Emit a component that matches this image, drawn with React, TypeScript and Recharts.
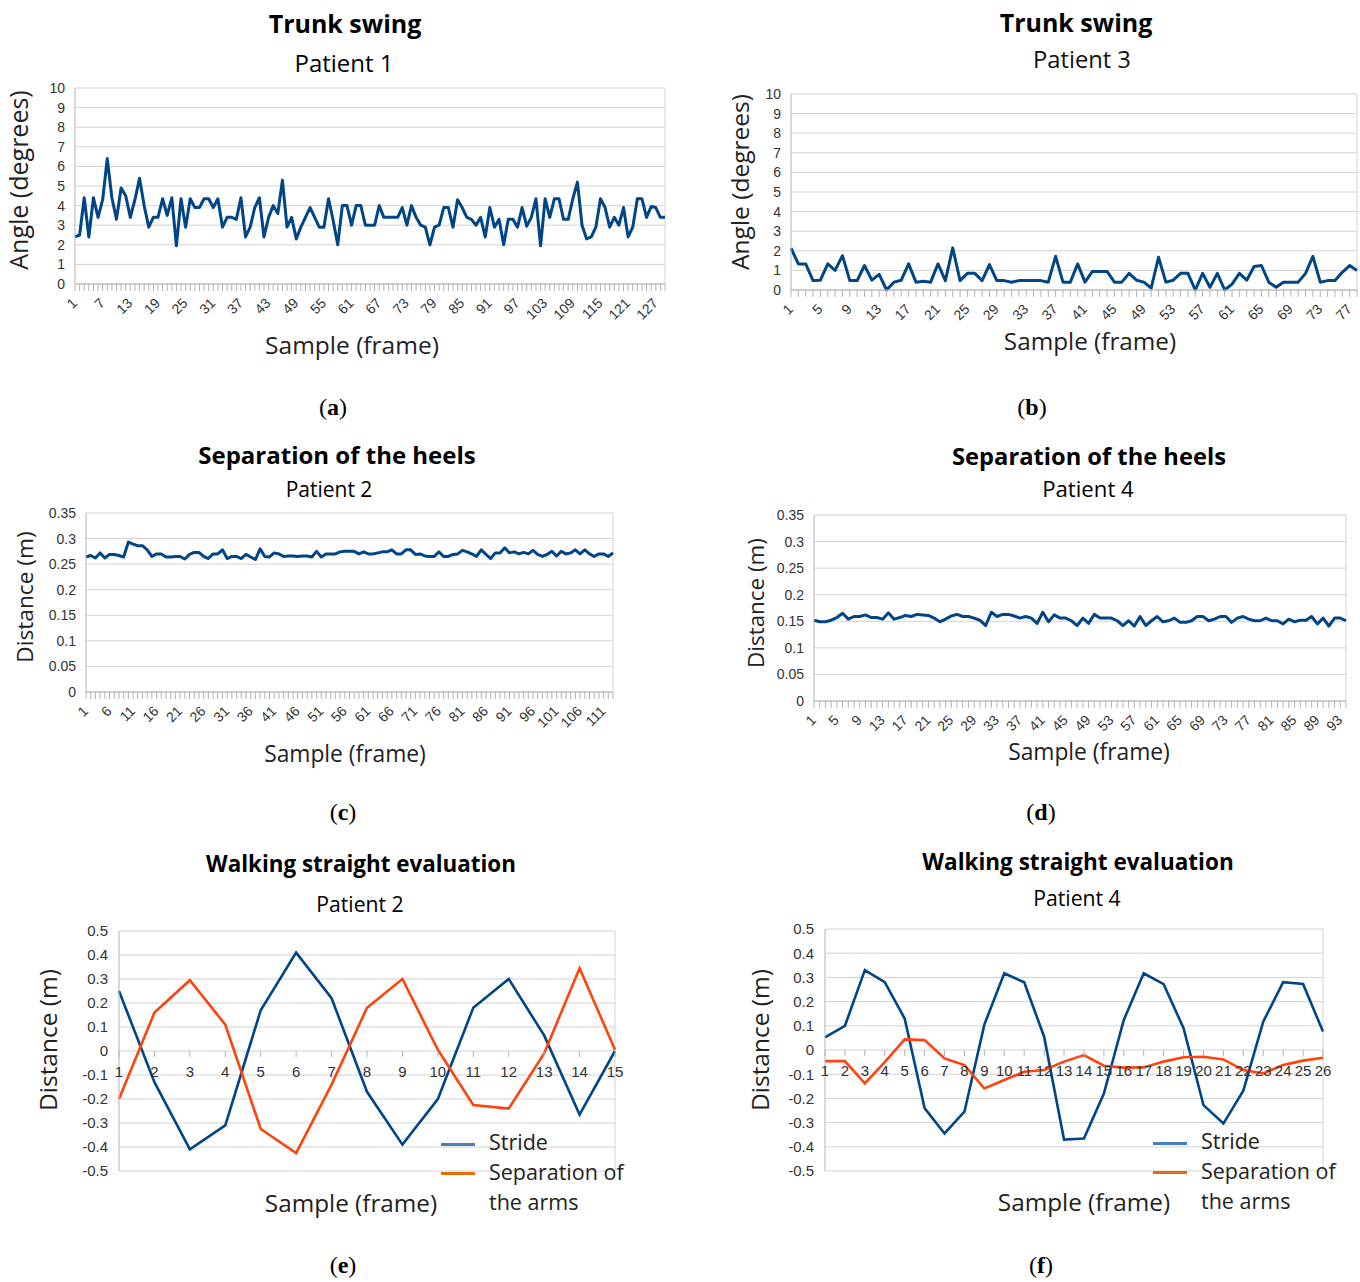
import React from "react";
import { LineChart, Line, XAxis, YAxis, CartesianGrid, ReferenceLine } from "recharts";

// Trunk swing, patient 1 (angle in degrees per frame)
const trunkP1 = [
  2.4, 2.5, 4.4, 2.4, 4.4, 3.4, 4.3, 6.4, 4.4, 3.3,
  4.9, 4.5, 3.4, 4.3, 5.4, 4.0, 2.9, 3.4, 3.4, 4.35,
  3.5, 4.4, 1.95, 4.35, 2.9, 4.35, 3.9, 3.9, 4.35, 4.35,
  3.9, 4.35, 2.9, 3.4, 3.4, 3.3, 4.4, 2.4, 2.9, 3.9,
  4.4, 2.4, 3.4, 4.0, 3.6, 5.3, 2.9, 3.4, 2.3, 2.9,
  3.4, 3.9, 3.4, 2.9, 2.9, 4.35, 3.25, 2.0, 4.0, 4.0,
  3.0, 4.0, 4.0, 3.0, 3.0, 3.0, 4.0, 3.4, 3.4, 3.4,
  3.4, 3.9, 3.0, 4.0, 3.4, 3.0, 2.9, 2.0, 2.9, 3.0,
  3.9, 3.9, 2.9, 4.3, 3.9, 3.4, 3.3, 3.0, 3.4, 2.4,
  3.9, 2.9, 3.3, 2.0, 3.3, 3.3, 2.9, 3.9, 2.95, 3.4,
  4.35, 1.95, 4.35, 3.4, 4.35, 4.35, 3.3, 3.3, 4.35, 5.2,
  3.0, 2.3, 2.4, 2.9, 4.35, 3.9, 2.9, 3.4, 3.0, 3.9,
  2.4, 2.9, 4.35, 4.35, 3.4, 3.95, 3.9, 3.4, 3.4,
];

// Trunk swing, patient 3
const trunkP3 = [
  2.13, 1.33, 1.33, 0.48, 0.5, 1.33, 1.0, 1.75, 0.48, 0.48,
  1.25, 0.5, 0.8, 0, 0.4, 0.5, 1.33, 0.4, 0.45, 0.4,
  1.33, 0.48, 2.15, 0.48, 0.85, 0.85, 0.48, 1.3, 0.48, 0.48,
  0.4, 0.48, 0.48, 0.48, 0.48, 0.4, 1.72, 0.4, 0.4, 1.33,
  0.4, 0.95, 0.95, 0.95, 0.4, 0.4, 0.85, 0.5, 0.4, 0.1,
  1.67, 0.4, 0.5, 0.85, 0.85, 0, 0.85, 0.14, 0.85, 0,
  0.3, 0.85, 0.5, 1.2, 1.25, 0.4, 0.14, 0.4, 0.4, 0.4,
  0.85, 1.72, 0.4, 0.48, 0.48, 0.9, 1.25, 1.0,
];

// Separation of the heels, patient 2 (m)
const heelsP2 = [
  0.264, 0.267, 0.262, 0.272, 0.262, 0.269, 0.269, 0.267, 0.264, 0.293,
  0.289, 0.286, 0.286, 0.278, 0.265, 0.27, 0.27, 0.264, 0.264, 0.265,
  0.265, 0.26, 0.269, 0.273, 0.273, 0.265, 0.261, 0.27, 0.27, 0.278,
  0.261, 0.265, 0.265, 0.261, 0.269, 0.264, 0.259, 0.28, 0.265, 0.264,
  0.272, 0.27, 0.265, 0.266, 0.266, 0.265, 0.266, 0.266, 0.264, 0.275,
  0.264, 0.27, 0.27, 0.27, 0.274, 0.275, 0.275, 0.275, 0.27, 0.274,
  0.27, 0.27, 0.272, 0.274, 0.274, 0.278, 0.27, 0.27, 0.278, 0.278,
  0.269, 0.27, 0.266, 0.265, 0.265, 0.274, 0.265, 0.265, 0.269, 0.27,
  0.277, 0.274, 0.27, 0.265, 0.278, 0.269, 0.261, 0.272, 0.272, 0.282,
  0.272, 0.274, 0.27, 0.273, 0.27, 0.277, 0.269, 0.265, 0.269, 0.275,
  0.266, 0.275, 0.27, 0.272, 0.278, 0.27, 0.278, 0.27, 0.265, 0.27,
  0.27, 0.265, 0.272,
];

// Separation of the heels, patient 4 (m)
const heelsP4 = [
  0.152, 0.149, 0.149, 0.152, 0.157, 0.165, 0.154, 0.159, 0.159, 0.162,
  0.157, 0.157, 0.154, 0.166, 0.154, 0.157, 0.161, 0.159, 0.163, 0.162,
  0.161, 0.156, 0.149, 0.154, 0.16, 0.163, 0.159, 0.159, 0.156, 0.152,
  0.142, 0.167, 0.159, 0.163, 0.163, 0.16, 0.156, 0.159, 0.156, 0.146,
  0.167, 0.149, 0.162, 0.156, 0.156, 0.151, 0.142, 0.156, 0.146, 0.163,
  0.156, 0.156, 0.156, 0.151, 0.142, 0.151, 0.141, 0.159, 0.142, 0.151,
  0.159, 0.149, 0.151, 0.156, 0.148, 0.148, 0.151, 0.159, 0.159, 0.151,
  0.154, 0.159, 0.159, 0.148, 0.156, 0.159, 0.154, 0.151, 0.151, 0.156,
  0.151, 0.151, 0.145, 0.154, 0.149, 0.152, 0.152, 0.159, 0.145, 0.156,
  0.141, 0.156, 0.156, 0.151,
];

// Walking straight evaluation, patient 2
const strideP2 = [0.25, -0.13, -0.41, -0.31, 0.17, 0.41, 0.22, -0.17, -0.39, -0.2, 0.18, 0.3, 0.065, -0.265, 0.0];
const armsP2 = [-0.2, 0.16, 0.295, 0.11, -0.325, -0.425, -0.14, 0.18, 0.3, 0.005, -0.225, -0.24, -0.01, 0.345, 0.005];

// Walking straight evaluation, patient 4
const strideP4 = [
  0.052, 0.1, 0.33, 0.28, 0.13, -0.24, -0.345, -0.255, 0.105, 0.317, 0.28, 0.055, -0.37,
  -0.366, -0.18, 0.124, 0.317, 0.272, 0.09, -0.228, -0.304, -0.168, 0.117, 0.28, 0.273, 0.076,
];
const armsP4 = [
  -0.046, -0.046, -0.138, -0.05, 0.044, 0.041, -0.035, -0.062, -0.159, -0.124, -0.09, -0.083, -0.048,
  -0.021, -0.065, -0.073, -0.072, -0.048, -0.03, -0.028, -0.039, -0.083, -0.097, -0.062, -0.044, -0.032,
];

const angleTicks = [0, 1, 2, 3, 4, 5, 6, 7, 8, 9, 10];
const heelTicks = [0, 0.05, 0.1, 0.15, 0.2, 0.25, 0.3, 0.35];
const walkTicks = [-0.5, -0.4, -0.3, -0.2, -0.1, 0, 0.1, 0.2, 0.3, 0.4, 0.5];
const seriesNames = ["Stride", "Separation of", "the arms"];

const BLUE = "#004586";
const ORANGE = "#ff420e";
const GRID = "#d3d3d3";
const AXIS = "#b3b3b3";
const SANS = "'Open Sans', sans-serif";
const TICK_FONT = "'Liberation Sans', Arial, sans-serif";
const SERIF = "'Liberation Serif', 'DejaVu Serif', serif";

type Rect = { x1: number; x2: number; y1: number; y2: number };

const Txt = ({ x, y, size, weight = 400, rotate = 0, align = "center", family = SANS, color = "#000", children }: any) => (
  <div
    style={{
      position: "absolute",
      left: x,
      top: y,
      transform: `translate(${align === "center" ? "-50%" : "0"}, -50%) rotate(${rotate}deg)`,
      fontSize: size,
      fontWeight: weight,
      fontFamily: family,
      whiteSpace: "nowrap",
      lineHeight: 1,
      color,
    }}
  >
    {children}
  </div>
);

const frameTick = (step: number) => (props: any) => {
  const { x, y, payload } = props;
  const show = (payload.value - 1) % step === 0;
  const ax = x + 3;
  const ay = y + 20;
  return (
    <g>
      <line x1={x} y1={y} x2={x} y2={y + 7} stroke={AXIS} />
      {show && (
        <text
          x={ax}
          y={ay}
          textAnchor="end"
          transform={`rotate(-45 ${ax} ${ay})`}
          fontSize={14}
          fill="#333"
          fontFamily={TICK_FONT}
        >
          {payload.value}
        </text>
      )}
    </g>
  );
};

const SeriesPanel = ({ values, r, domain, ticks, step, yw, fontSize = 14 }: any) => {
  const rows = values.map((v: number, i: number) => ({ frame: i + 1, v }));
  const xh = 50;
  const w = r.x2 - r.x1 + yw + 10;
  const h = r.y2 - r.y1 + 10 + xh;
  return (
    <div style={{ position: "absolute", left: r.x1 - yw, top: r.y1 - 10 }}>
      <LineChart width={w} height={h} data={rows} margin={{ top: 10, right: 10, left: 0, bottom: 0 }}>
        <CartesianGrid stroke={GRID} vertical={false} />
        <XAxis
          dataKey="frame"
          interval={0}
          height={xh}
          tickSize={0}
          tickMargin={0}
          axisLine={{ stroke: AXIS }}
          tickLine={false}
          tick={frameTick(step)}
        />
        <YAxis
          width={yw}
          domain={domain}
          ticks={ticks}
          interval={0}
          tickSize={0}
          tickMargin={10}
          axisLine={{ stroke: AXIS }}
          tickLine={false}
          tick={{ fontSize, fill: "#333", fontFamily: TICK_FONT }}
        />
        <ReferenceLine x={values.length} stroke={GRID} />
        <Line
          type="linear"
          dataKey="v"
          stroke={BLUE}
          strokeWidth={3}
          strokeLinejoin="round"
          dot={false}
          isAnimationActive={false}
        />
      </LineChart>
    </div>
  );
};

const WalkPanel = ({ stride, arms, r }: any) => {
  const rows = stride.map((s: number, i: number) => ({ frame: i + 1, stride: s, arms: arms[i] }));
  const yw = 60;
  const xh = 16;
  const plotH = r.y2 - r.y1;
  const w = r.x2 - r.x1 + yw + 10;
  const h = r.y2 - r.y1 + 10 + xh;
  const tick = (props: any) => {
    const { x, y, payload } = props;
    const zy = y - plotH / 2;
    return (
      <g>
        <line x1={x} y1={zy} x2={x} y2={zy + 6} stroke={AXIS} />
        <text x={x} y={zy + 26} textAnchor="middle" fontSize={15} fill="#333" fontFamily={TICK_FONT}>
          {payload.value}
        </text>
      </g>
    );
  };
  return (
    <div style={{ position: "absolute", left: r.x1 - yw, top: r.y1 - 10 }}>
      <LineChart width={w} height={h} data={rows} margin={{ top: 10, right: 10, left: 0, bottom: 0 }}>
        <CartesianGrid stroke={GRID} vertical={false} />
        <XAxis
          dataKey="frame"
          interval={0}
          height={xh}
          tickSize={0}
          tickMargin={0}
          axisLine={false}
          tickLine={false}
          tick={tick}
        />
        <YAxis
          width={yw}
          domain={[-0.5, 0.5]}
          ticks={walkTicks}
          interval={0}
          tickSize={0}
          tickMargin={11}
          axisLine={{ stroke: AXIS }}
          tickLine={false}
          tick={{ fontSize: 15, fill: "#333", fontFamily: TICK_FONT }}
        />
        <ReferenceLine x={stride.length} stroke={GRID} />
        <Line type="linear" dataKey="stride" stroke={BLUE} strokeWidth={2.6} dot={false} isAnimationActive={false} />
        <Line type="linear" dataKey="arms" stroke={ORANGE} strokeWidth={2.6} dot={false} isAnimationActive={false} />
      </LineChart>
    </div>
  );
};

const LegendBox = ({ x, y }: any) => (
  <>
    <div style={{ position: "absolute", left: x, top: y - 1.5, width: 34, height: 3, background: "#4a7ebb" }} />
    <Txt x={x + 48} y={y - 2} size={21.5} align="left" color="#222">{seriesNames[0]}</Txt>
    <div style={{ position: "absolute", left: x, top: y + 27.5, width: 34, height: 3, background: "#e46c0a" }} />
    <Txt x={x + 48} y={y + 28} size={21.5} align="left" color="#222">{seriesNames[1]}</Txt>
    <Txt x={x + 48} y={y + 58} size={21.5} align="left" color="#222">{seriesNames[2]}</Txt>
  </>
);

const Caption = ({ x, y, letter }: any) => (
  <Txt x={x} y={y} size={24} family={SERIF}>
    (<b>{letter}</b>)
  </Txt>
);

const rA: Rect = { x1: 75, x2: 665, y1: 88, y2: 284 };
const rB: Rect = { x1: 791, x2: 1357, y1: 94, y2: 290 };
const rC: Rect = { x1: 86, x2: 613, y1: 513, y2: 692 };
const rD: Rect = { x1: 814, x2: 1346, y1: 515, y2: 701 };
const rE: Rect = { x1: 119, x2: 615, y1: 931, y2: 1171 };
const rF: Rect = { x1: 825, x2: 1323, y1: 929, y2: 1171 };

export default function App() {
  return (
    <div style={{ position: "absolute", left: 0, top: 0, width: 1360, height: 1282, background: "#fff", overflow: "hidden" }}>
      {/* (a) */}
      <Txt x={345} y={23} size={25} weight={700}>Trunk swing</Txt>
      <Txt x={344} y={63} size={24}>Patient 1</Txt>
      <Txt x={18} y={180} size={25} rotate={-90} color="#222">Angle (degrees)</Txt>
      <SeriesPanel values={trunkP1} r={rA} domain={[0, 10]} ticks={angleTicks} step={6} yw={45} />
      <Txt x={352} y={345} size={24.5} color="#222">Sample (frame)</Txt>
      <Caption x={333} y={407} letter="a" />

      {/* (b) */}
      <Txt x={1076} y={22} size={25} weight={700}>Trunk swing</Txt>
      <Txt x={1082} y={60} size={23.7} color="#111">Patient 3</Txt>
      <Txt x={740} y={182} size={24.5} rotate={-90} color="#222">Angle (degrees)</Txt>
      <SeriesPanel values={trunkP3} r={rB} domain={[0, 10]} ticks={angleTicks} step={4} yw={45} />
      <Txt x={1090} y={341} size={24.3} color="#222">Sample (frame)</Txt>
      <Caption x={1032} y={407} letter="b" />

      {/* (c) */}
      <Txt x={337} y={455} size={24} weight={700}>Separation of the heels</Txt>
      <Txt x={329} y={489} size={21}>Patient 2</Txt>
      <Txt x={25} y={597} size={22.7} rotate={-90} color="#222">Distance (m)</Txt>
      <SeriesPanel values={heelsP2} r={rC} domain={[0, 0.35]} ticks={heelTicks} step={5} yw={55} />
      <Txt x={345} y={754} size={22.8} color="#222">Sample (frame)</Txt>
      <Caption x={343} y={812} letter="c" />

      {/* (d) */}
      <Txt x={1089} y={457} size={23.7} weight={700}>Separation of the heels</Txt>
      <Txt x={1088} y={489} size={22.2}>Patient 4</Txt>
      <Txt x={756} y={603} size={22.4} rotate={-90} color="#222">Distance (m)</Txt>
      <SeriesPanel values={heelsP4} r={rD} domain={[0, 0.35]} ticks={heelTicks} step={4} yw={55} />
      <Txt x={1089} y={752} size={22.8} color="#222">Sample (frame)</Txt>
      <Caption x={1041} y={812} letter="d" />

      {/* (e) */}
      <Txt x={361} y={864} size={22.4} weight={700}>Walking straight evaluation</Txt>
      <Txt x={360} y={904} size={21.2}>Patient 2</Txt>
      <Txt x={48} y={1040} size={24.5} rotate={-90} color="#222">Distance (m)</Txt>
      <WalkPanel stride={strideP2} arms={armsP2} r={rE} />
      <Txt x={351} y={1203} size={24.3} color="#222">Sample (frame)</Txt>
      <LegendBox x={441} y={1144} />
      <Caption x={343} y={1265} letter="e" />

      {/* (f) */}
      <Txt x={1078} y={862} size={22.5} weight={700}>Walking straight evaluation</Txt>
      <Txt x={1077} y={898} size={21.2}>Patient 4</Txt>
      <Txt x={760} y={1040} size={24.5} rotate={-90} color="#222">Distance (m)</Txt>
      <WalkPanel stride={strideP4} arms={armsP4} r={rF} />
      <Txt x={1084} y={1202} size={24.3} color="#222">Sample (frame)</Txt>
      <LegendBox x={1153} y={1143} />
      <Caption x={1041} y={1265} letter="f" />
    </div>
  );
}
